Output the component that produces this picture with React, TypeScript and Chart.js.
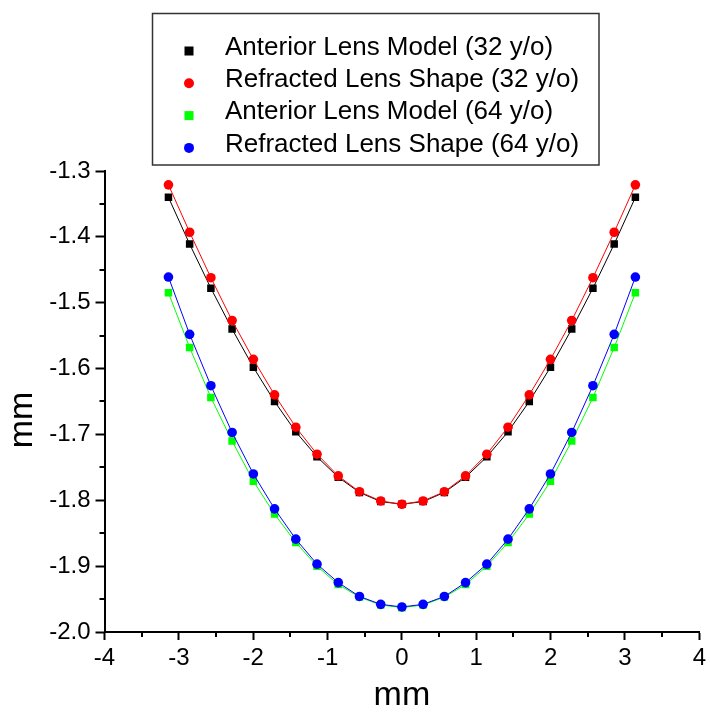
import React, { useEffect, useRef } from 'react';
import { Chart, registerables } from 'chart.js';
Chart.register(...registerables);

// Lateral position (mm)
const xValues = [
  -3.14, -2.855, -2.569, -2.284, -1.998, -1.713, -1.427, -1.142, -0.856, -0.571, -0.285, 0,
  0.285, 0.571, 0.856, 1.142, 1.427, 1.713, 1.998, 2.284, 2.569, 2.855, 3.14,
];

const anteriorModel32 = [
  -1.340, -1.411, -1.478, -1.540, -1.598, -1.650, -1.696, -1.734, -1.765, -1.788, -1.802, -1.806,
  -1.802, -1.788, -1.765, -1.734, -1.696, -1.650, -1.598, -1.540, -1.478, -1.411, -1.340,
];
const refractedShape32 = [
  -1.321, -1.393, -1.462, -1.527, -1.586, -1.640, -1.689, -1.730, -1.763, -1.787, -1.801, -1.806,
  -1.801, -1.787, -1.763, -1.730, -1.689, -1.640, -1.586, -1.527, -1.462, -1.393, -1.321,
];
const anteriorModel64 = [
  -1.485, -1.568, -1.644, -1.710, -1.771, -1.821, -1.864, -1.900, -1.928, -1.947, -1.959, -1.963,
  -1.959, -1.947, -1.928, -1.900, -1.864, -1.821, -1.771, -1.710, -1.644, -1.568, -1.485,
];
const refractedShape64 = [
  -1.461, -1.548, -1.626, -1.697, -1.760, -1.813, -1.859, -1.897, -1.925, -1.946, -1.958, -1.962,
  -1.958, -1.946, -1.925, -1.897, -1.859, -1.813, -1.760, -1.697, -1.626, -1.548, -1.461,
];

const seriesLabels = [
  'Anterior Lens Model (32 y/o)',
  'Refracted Lens Shape (32 y/o)',
  'Anterior Lens Model (64 y/o)',
  'Refracted Lens Shape (64 y/o)',
];

const xMinorTicks = [-3.5, -2.5, -1.5, -0.5, 0.5, 1.5, 2.5, 3.5];
const yMinorTicks = [-1.35, -1.45, -1.55, -1.65, -1.75, -1.85, -1.95];

const axisTitleX = 'mm';
const axisTitleY = 'mm';

const FONT = '"Liberation Sans", Arial, Helvetica, sans-serif';

export default function App() {
  const ref = useRef<HTMLCanvasElement | null>(null);

  useEffect(() => {
    if (!ref.current) return;
    const mk = (ys: number[]) => xValues.map((x, i) => ({ x, y: ys[i] }));

    const extras = {
      id: 'extras',
      afterDraw(chart: any) {
        const ctx = chart.ctx as CanvasRenderingContext2D;
        const xs = chart.scales.x;
        const ys = chart.scales.y;
        const area = chart.chartArea;
        ctx.save();
        // minor ticks
        ctx.strokeStyle = '#000';
        ctx.lineWidth = 2;
        ctx.beginPath();
        for (const v of xMinorTicks) {
          const px = Math.round(xs.getPixelForValue(v));
          ctx.moveTo(px, area.bottom);
          ctx.lineTo(px, area.bottom + 5);
        }
        for (const v of yMinorTicks) {
          const py = Math.round(ys.getPixelForValue(v));
          ctx.moveTo(area.left, py);
          ctx.lineTo(area.left - 5, py);
        }
        ctx.stroke();

        // y title
        ctx.save();
        ctx.translate(32, 420);
        ctx.rotate(-Math.PI / 2);
        ctx.fillStyle = '#000';
        ctx.font = `34px ${FONT}`;
        ctx.textAlign = 'center';
        ctx.textBaseline = 'alphabetic';
        ctx.fillText(axisTitleY, 0, 0);
        ctx.restore();

        // legend
        ctx.fillStyle = '#fff';
        ctx.fillRect(152.5, 13.5, 446.5, 151.5);
        ctx.strokeStyle = '#333';
        ctx.lineWidth = 1.5;
        ctx.strokeRect(152.5, 13.5, 446.5, 151.5);
        const rowY0 = 51;
        const rowGap = 32.3;
        chart.data.datasets.forEach((ds: any, i: number) => {
          const my = rowY0 + i * rowGap;
          const mx = 189;
          ctx.fillStyle = ds.backgroundColor;
          if (ds.pointStyle === 'rect') {
            ctx.fillRect(mx - 4.5, my - 4.5, 9, 9);
          } else {
            ctx.beginPath();
            ctx.arc(mx, my, 5, 0, Math.PI * 2);
            ctx.fill();
          }
          ctx.fillStyle = '#000';
          ctx.font = `26px ${FONT}`;
          ctx.textAlign = 'left';
          ctx.textBaseline = 'middle';
          ctx.fillText(ds.label, 225, my - 3.5);
        });
        ctx.restore();
      },
    };

    const chart = new Chart(ref.current, {
      type: 'line',
      data: {
        datasets: [
          {
            label: seriesLabels[0],
            data: mk(anteriorModel32),
            borderColor: '#000000',
            backgroundColor: '#000000',
            pointStyle: 'rect',
            pointRadius: 5.3,
            pointBorderWidth: 0,
            borderWidth: 1,
            order: 4,
          },
          {
            label: seriesLabels[1],
            data: mk(refractedShape32),
            borderColor: '#ff0000',
            backgroundColor: '#ff0000',
            pointStyle: 'circle',
            pointRadius: 4.8,
            pointBorderWidth: 0,
            borderWidth: 1,
            order: 3,
          },
          {
            label: seriesLabels[2],
            data: mk(anteriorModel64),
            borderColor: '#00ff00',
            backgroundColor: '#00ff00',
            pointStyle: 'rect',
            pointRadius: 5.3,
            pointBorderWidth: 0,
            borderWidth: 1,
            order: 2,
          },
          {
            label: seriesLabels[3],
            data: mk(refractedShape64),
            borderColor: '#0000ff',
            backgroundColor: '#0000ff',
            pointStyle: 'circle',
            pointRadius: 4.8,
            pointBorderWidth: 0,
            borderWidth: 1,
            order: 1,
          },
        ],
      },
      options: {
        responsive: false,
        animation: false,
        events: [],
        layout: { padding: { top: 171, right: 8.5, left: 0, bottom: 0 } },
        plugins: {
          legend: { display: false },
          tooltip: { enabled: false },
        },
        elements: { line: { tension: 0 } },
        scales: {
          x: {
            type: 'linear',
            min: -4,
            max: 4,
            ticks: {
              stepSize: 1,
              color: '#000',
              font: { family: FONT, size: 24 },
              padding: 4,
              maxRotation: 0,
              autoSkip: false,
            },
            grid: {
              display: true,
              drawOnChartArea: false,
              drawTicks: true,
              tickLength: 8,
              tickWidth: 2,
              tickColor: '#000',
            },
            border: { display: true, color: '#000', width: 2 },
            title: {
              display: true,
              text: axisTitleX,
              color: '#000',
              font: { family: FONT, size: 34, lineHeight: 1 },
              padding: { top: 0, bottom: 0 },
            },
            afterFit: (scale: any) => {
              scale.height = 81;
            },
          },
          y: {
            type: 'linear',
            min: -2.0,
            max: -1.3,
            ticks: {
              stepSize: 0.1,
              color: '#000',
              font: { family: FONT, size: 24 },
              padding: 5,
              callback: (v: any) => Number(v).toFixed(1),
            },
            grid: {
              display: true,
              drawOnChartArea: false,
              drawTicks: true,
              tickLength: 9,
              tickWidth: 2,
              tickColor: '#000',
            },
            border: { display: true, color: '#000', width: 2 },
            afterFit: (scale: any) => {
              scale.width = 104.5;
            },
          },
        },
      },
      plugins: [extras],
    } as any);

    return () => chart.destroy();
  }, []);

  return (
    <div style={{ position: 'fixed', left: 0, top: 0, width: 710, height: 713, background: '#fff' }}>
      <canvas ref={ref} width={710} height={713} style={{ display: 'block', width: 710, height: 713 }} />
    </div>
  );
}
